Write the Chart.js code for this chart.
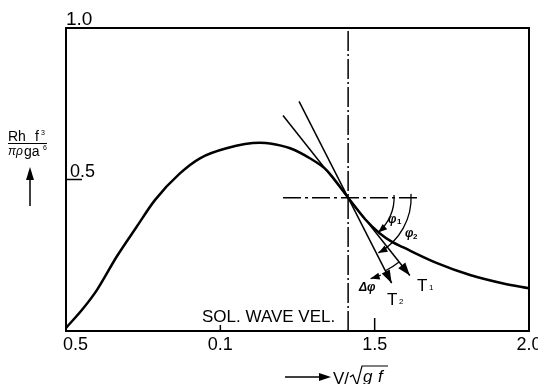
<!DOCTYPE html>
<html>
<head>
<meta charset="utf-8">
<script src="https://cdn.jsdelivr.net/npm/chart.js@4/dist/chart.umd.min.js"></script>
<style>
  body { margin: 0; background: #fff; }
</style>
</head>
<body>
<canvas id="chart" width="538" height="384"></canvas>
<script>
// curve
const curveX = [0.5, 0.556, 0.6, 0.664, 0.729, 0.788, 0.869, 0.934, 1.02, 1.128, 1.161, 1.226, 1.29, 1.344, 1.414, 1.47, 1.517, 1.555, 1.593, 1.7, 1.809, 1.917, 2.0];
const curveY = [0.01, 0.075, 0.135, 0.245, 0.344, 0.432, 0.52, 0.57, 0.603, 0.621, 0.619, 0.603, 0.57, 0.531, 0.44, 0.368, 0.322, 0.295, 0.276, 0.225, 0.185, 0.157, 0.141];

const xTickVals = [0.5, 1.0, 1.5, 2.0];
const xTickLabels = ['0.5', '0.1', '1.5', '2.0'];
const yTickVals = [0.5, 1.0];
const yTickLabels = ['0.5', '1.0'];

// solitary wave velocity line and crossing point
const solX = 1.414;
const crossY = 0.44;
const hLineX = [1.203, 1.637];

// tangent directions T1 / T2
const t1X = [1.203, 1.614];
const t1Y = [0.711, 0.183];
const t2X = [1.255, 1.555];
const t2Y = [0.758, 0.158];

const pts = (xs, ys) => xs.map((v, i) => ({ x: v, y: ys[i] }));
const FONT = '"Liberation Sans", Arial, sans-serif';

function head(ctx, px, py, ang, len, wid) {
  const c = Math.cos(ang), s = Math.sin(ang);
  ctx.beginPath();
  ctx.moveTo(px, py);
  ctx.lineTo(px - len * c + wid * s, py - len * s - wid * c);
  ctx.lineTo(px - len * c - wid * s, py - len * s + wid * c);
  ctx.closePath();
  ctx.fill();
}

function arcArrow(ctx, cx, cy, r, a0, a1, arrow) {
  ctx.beginPath();
  ctx.arc(cx, cy, r, a0, a1);
  ctx.stroke();
  if (arrow) head(ctx, cx + r * Math.cos(a1), cy + r * Math.sin(a1), a1 + Math.PI / 2, 9, 3.5);
}

const annot = {
  id: 'annot',
  afterDatasetsDraw(chart) {
    const { ctx, chartArea: a, scales: { x, y } } = chart;
    ctx.save();
    ctx.strokeStyle = '#000';
    ctx.fillStyle = '#000';

    // frame
    ctx.lineWidth = 2;
    ctx.strokeRect(a.left, a.top, a.right - a.left, a.bottom - a.top);

    // x ticks + labels
    ctx.font = '18px ' + FONT;
    ctx.textBaseline = 'alphabetic';
    xTickVals.forEach((v, i) => {
      const px = x.getPixelForValue(v);
      if (i === 1 || i === 2) {
        ctx.lineWidth = 1.5;
        ctx.beginPath();
        ctx.moveTo(px, a.bottom);
        ctx.lineTo(px, a.bottom - (i === 1 ? 6 : 13));
        ctx.stroke();
      }
      ctx.textAlign = i === 0 ? 'left' : 'center';
      ctx.fillText(xTickLabels[i], i === 0 ? px - 3 : px, a.bottom + 19);
    });

    // y ticks + labels
    ctx.textAlign = 'left';
    yTickVals.forEach((v, i) => {
      const py = y.getPixelForValue(v);
      if (v < 1) {
        ctx.lineWidth = 1.5;
        ctx.beginPath();
        ctx.moveTo(a.left, py);
        ctx.lineTo(a.left + 16, py);
        ctx.stroke();
        ctx.fillText(yTickLabels[i], a.left + 4, py - 3);
      } else {
        ctx.font = '19px ' + FONT;
        ctx.fillText(yTickLabels[i], a.left, py - 3);
        ctx.font = '18px ' + FONT;
      }
    });

    // arrowheads on T1, T2
    const cx = x.getPixelForValue(solX), cy = y.getPixelForValue(crossY);
    const tip = (xs, ys) => {
      const x0 = x.getPixelForValue(xs[0]), y0 = y.getPixelForValue(ys[0]);
      const x1 = x.getPixelForValue(xs[1]), y1 = y.getPixelForValue(ys[1]);
      return { px: x1, py: y1, ang: Math.atan2(y1 - y0, x1 - x0) };
    };
    const T1 = tip(t1X, t1Y), T2 = tip(t2X, t2Y);
    head(ctx, T1.px, T1.py, T1.ang, 13, 4.5);
    head(ctx, T2.px, T2.py, T2.ang, 13, 4.5);

    // angle arcs
    ctx.lineWidth = 1.3;
    arcArrow(ctx, cx, cy, 46, -0.06, T1.ang - 0.04, true);
    arcArrow(ctx, cx, cy, 63, -0.06, T2.ang - 0.03, true);
    arcArrow(ctx, cx, cy, 82, T1.ang, T2.ang, false);
    arcArrow(ctx, cx, cy, 84, T2.ang + 0.07, T2.ang + 0.2, true);

    // annotation text
    ctx.font = 'bold italic 12px ' + FONT;
    ctx.textAlign = 'left';
    ctx.fillText('φ', 388, 223);
    ctx.font = 'bold 8px ' + FONT;
    ctx.fillText('1', 397, 224);
    ctx.font = 'bold italic 12px ' + FONT;
    ctx.fillText('φ', 405, 237);
    ctx.font = 'bold 8px ' + FONT;
    ctx.fillText('2', 413, 239);
    ctx.font = 'bold italic 12px ' + FONT;
    ctx.fillText('Δφ', 359, 291);

    ctx.font = '17px ' + FONT;
    ctx.fillText('T', 417, 291);
    ctx.fillText('T', 387, 305);
    ctx.font = '8px ' + FONT;
    ctx.fillText('1', 429, 290);
    ctx.fillText('2', 399, 304);

    ctx.font = '17px ' + FONT;
    ctx.fillText('SOL. WAVE VEL.', 202, 322);

    // y title
    ctx.font = '14px ' + FONT;
    ctx.fillText('Rh', 8, 141);
    ctx.fillText('f', 35, 141);
    ctx.font = '7px ' + FONT;
    ctx.fillText('3', 41, 135);
    ctx.lineWidth = 1;
    ctx.beginPath();
    ctx.moveTo(8, 143.5);
    ctx.lineTo(47, 143.5);
    ctx.stroke();
    ctx.font = 'italic 12px ' + FONT;
    ctx.fillText('πρ', 8, 155);
    ctx.font = '14px ' + FONT;
    ctx.fillText('ga', 24, 156);
    ctx.font = '7px ' + FONT;
    ctx.fillText('6', 43, 150);
    ctx.lineWidth = 1.5;
    ctx.beginPath();
    ctx.moveTo(30, 206);
    ctx.lineTo(30, 178);
    ctx.stroke();
    head(ctx, 30, 167, -Math.PI / 2, 13, 4);

    // x title
    ctx.beginPath();
    ctx.moveTo(285, 377);
    ctx.lineTo(322, 377);
    ctx.stroke();
    head(ctx, 331, 377, 0, 12, 4);
    ctx.font = '17px ' + FONT;
    ctx.fillText('V/', 333, 384);
    ctx.lineWidth = 1.2;
    ctx.beginPath();
    ctx.moveTo(350, 377);
    ctx.lineTo(353, 375);
    ctx.lineTo(357, 385);
    ctx.lineTo(362, 366);
    ctx.lineTo(388, 366);
    ctx.stroke();
    ctx.font = 'italic 17px ' + FONT;
    ctx.fillText('g', 363, 382);
    ctx.fillText('f', 378, 382);

    ctx.restore();
  }
};

new Chart(document.getElementById('chart'), {
  type: 'line',
  data: {
    datasets: [
      { data: pts(curveX, curveY), borderColor: '#000', borderWidth: 2.5, cubicInterpolationMode: 'monotone' },
      { data: pts(t1X, t1Y), borderColor: '#000', borderWidth: 1.5 },
      { data: pts(t2X, t2Y), borderColor: '#000', borderWidth: 1.5 },
      { data: pts([solX, solX], [0, 1]), borderColor: '#000', borderWidth: 1.5, borderDash: [20, 3, 2, 3] },
      { data: pts(hLineX, [crossY, crossY]), borderColor: '#000', borderWidth: 1.5, borderDash: [18, 4, 3, 4] }
    ]
  },
  options: {
    responsive: false,
    animation: false,
    devicePixelRatio: 1,
    layout: { padding: { left: 66, right: 9, top: 28, bottom: 53 } },
    elements: { point: { radius: 0 } },
    plugins: { legend: { display: false }, tooltip: { enabled: false } },
    scales: {
      x: { type: 'linear', min: 0.5, max: 2.0, display: false },
      y: { type: 'linear', min: 0, max: 1, display: false }
    }
  },
  plugins: [annot]
});
</script>
</body>
</html>
